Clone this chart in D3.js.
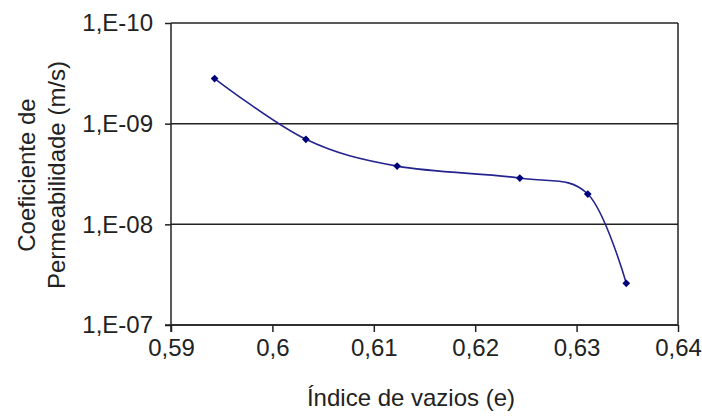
<!DOCTYPE html>
<html>
<head>
<meta charset="utf-8">
<script src="https://cdn.jsdelivr.net/npm/d3@7"></script>
<style>
  body { margin: 0; background: #fff; }
  svg text { font-family: "Liberation Sans", Arial, sans-serif; fill: #222; }
</style>
</head>
<body>
<div id="chart"></div>
<script>
// data
var voidRatio = [0.5943, 0.6033, 0.6123, 0.6244, 0.6311, 0.6349];
var permeability = [3.56e-10, 1.43e-9, 2.64e-9, 3.47e-9, 5.0e-9, 3.85e-8];
var xTicks = [0.59, 0.6, 0.61, 0.62, 0.63, 0.64];
var yTicks = [1e-10, 1e-9, 1e-8, 1e-7];
var xTitle = "Índice de vazios (e)";
var yTitle = ["Coeficiente de", "Permeabilidade (m/s)"];

var width = 702, height = 417;
var margin = { top: 23, right: 24, bottom: 92, left: 171 };
var chartWidth = width - margin.left - margin.right;
var chartHeight = height - margin.top - margin.bottom;
var fontSize = "24px";

var svg = d3
  .select("#chart")
  .append("svg")
  .attr("width", width)
  .attr("height", height);

var g = svg
  .append("g")
  .attr("transform", "translate(" + margin.left + "," + margin.top + ")");

var xScale = d3.scaleLinear().domain([0.59, 0.64]).range([0, chartWidth]);
// log axis, reversed: small values on top
var yScale = d3.scaleLog().domain([1e-10, 1e-7]).range([0, chartHeight]);

// gridlines
g.selectAll(".grid")
  .data(yTicks)
  .enter()
  .append("line")
  .attr("x1", 0)
  .attr("x2", chartWidth)
  .attr("y1", function(d) { return yScale(d); })
  .attr("y2", function(d) { return yScale(d); })
  .attr("stroke", "#222")
  .attr("stroke-width", 1.5);

// right border
g.append("line")
  .attr("x1", chartWidth)
  .attr("x2", chartWidth)
  .attr("y1", 0)
  .attr("y2", chartHeight)
  .attr("stroke", "#222")
  .attr("stroke-width", 1.5);

var xAxis = d3
  .axisBottom(xScale)
  .tickValues(xTicks)
  .tickSize(7)
  .tickPadding(7)
  .tickFormat(function(d) { return String(d).replace(".", ","); });

var yAxis = d3
  .axisLeft(yScale)
  .tickValues(yTicks)
  .tickSize(6)
  .tickPadding(12)
  .tickFormat(function(d) {
    var e = Math.round(Math.log10(d));
    var s = String(Math.abs(e));
    if (s.length < 2) s = "0" + s;
    return "1,E" + (e < 0 ? "-" : "+") + s;
  });

var gx = g.append("g")
  .attr("transform", "translate(0," + chartHeight + ")")
  .call(xAxis);
var gy = g.append("g").call(yAxis);

[gx, gy].forEach(function(ax) {
  ax.select(".domain").remove();
  ax.selectAll("line").attr("stroke", "#222").attr("stroke-width", 1.5);
  ax.selectAll("text")
    .style("font-size", fontSize)
    .style("font-family", "Liberation Sans, Arial, sans-serif")
    .attr("fill", "#222");
});
// bottom & left axis lines (bottom sticks out left like the ticks)
g.append("line")
  .attr("x1", -6).attr("x2", chartWidth)
  .attr("y1", chartHeight).attr("y2", chartHeight)
  .attr("stroke", "#222").attr("stroke-width", 1.5);
g.append("line")
  .attr("x1", 0).attr("x2", 0)
  .attr("y1", 0).attr("y2", chartHeight + 7)
  .attr("stroke", "#222").attr("stroke-width", 1.5);

// data line
var points = voidRatio.map(function(v, i) { return [v, permeability[i]]; });
var line = d3
  .line()
  .x(function(d) { return xScale(d[0]); })
  .y(function(d) { return yScale(d[1]); })
  .curve(d3.curveCardinal.tension(0));

g.append("path")
  .datum(points)
  .attr("d", line)
  .attr("fill", "none")
  .attr("stroke", "#24248f")
  .attr("stroke-width", 1.6);

g.selectAll(".marker")
  .data(points)
  .enter()
  .append("path")
  .attr("d", d3.symbol().type(d3.symbolSquare).size(30))
  .attr("transform", function(d) {
    return "translate(" + xScale(d[0]) + "," + yScale(d[1]) + ") rotate(45)";
  })
  .attr("fill", "#00007a");

// titles
svg.append("text")
  .attr("x", 411)
  .attr("y", 406)
  .attr("text-anchor", "middle")
  .style("font-size", fontSize)
  .text(xTitle);

svg.selectAll(".ytitle")
  .data(yTitle)
  .enter()
  .append("text")
  .attr("transform", function(d, i) {
    return "translate(" + (35 + i * 30) + ",175) rotate(-90)";
  })
  .attr("text-anchor", "middle")
  .style("font-size", fontSize)
  .text(function(d) { return d; });
</script>
</body>
</html>
